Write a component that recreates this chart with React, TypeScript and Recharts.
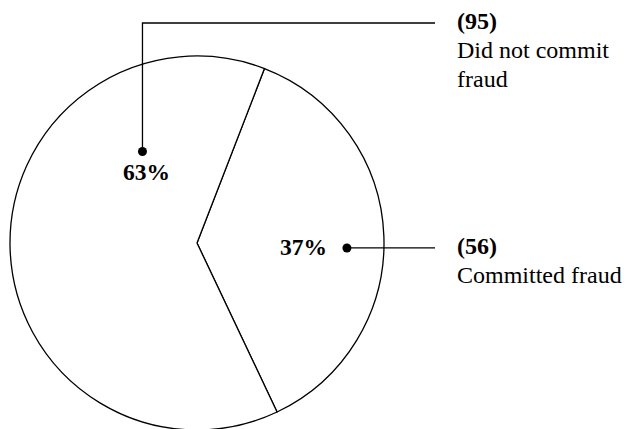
import React from 'react';
import { PieChart, Pie, Cell } from 'recharts';

// counts
const categories = ['Committed fraud', 'Did not commit fraud'];
const categoryLines = [['Committed fraud'], ['Did not commit', 'fraud']];
const counts = [56, 95];

const pieData = categories.map((name, i) => ({ name, value: counts[i], lines: categoryLines[i] }));

// label placement (polar offset of the dot from the centre, leader routing)
const LABEL_LAYOUT = [
  { angle: -1.9, radius: 150, elbowY: null, pctDx: -20, pctDy: 7, pctAnchor: 'end' },
  { angle: 120.8, radius: 106.5, elbowY: 23, pctDx: 4, pctDy: 28, pctAnchor: 'middle' },
];
const LEADER_END_X = 435;
const TEXT_X = 457;
const FONT = "'Liberation Serif', 'DejaVu Serif', serif";
const RAD = Math.PI / 180;

const renderLabel = (props: any) => {
  const { cx, cy, percent, index, value, payload } = props;
  const lay = LABEL_LAYOUT[index];
  const dx = cx + lay.radius * Math.cos(lay.angle * RAD);
  const dy = cy - lay.radius * Math.sin(lay.angle * RAD);
  const lineY = lay.elbowY == null ? dy : lay.elbowY;
  const points = lay.elbowY == null
    ? `${dx},${dy} ${LEADER_END_X},${dy}`
    : `${dx},${dy} ${dx},${lineY} ${LEADER_END_X},${lineY}`;
  const lines: string[] = payload.lines || [payload.name];
  return (
    <g key={`lbl-${index}`}>
      <polyline points={points} fill="none" stroke="#000" strokeWidth={1.3} />
      <circle cx={dx} cy={dy} r={4.5} fill="#000" />
      <text
        x={dx + lay.pctDx}
        y={dy + lay.pctDy}
        textAnchor={lay.pctAnchor as any}
        style={{ fontFamily: FONT, fontWeight: 'bold', fontSize: 23.5 }}
        fill="#000"
      >
        {`${Math.round(percent * 100)}%`}
      </text>
      <text x={TEXT_X} y={lineY + 6} style={{ fontFamily: FONT, fontWeight: 'bold', fontSize: 24 }} fill="#000">
        {`(${value})`}
      </text>
      {lines.map((ln, i) => (
        <text key={i} x={TEXT_X} y={lineY + 35 + i * 29} style={{ fontFamily: FONT, fontSize: 24 }} fill="#000">
          {ln}
        </text>
      ))}
    </g>
  );
};

const App: React.FC = () => {
  const total = counts.reduce((a, b) => a + b, 0);
  const sweep = (counts[0] / total) * 360;
  const mid = 2.1;
  const start = mid + sweep / 2;
  return (
    <div style={{ position: 'absolute', left: 0, top: 0, background: '#fff', fontFamily: FONT }}>
      <PieChart width={628} height={429} margin={{ top: 0, right: 0, bottom: 0, left: 0 }}>
        <Pie
          data={pieData}
          dataKey="value"
          nameKey="name"
          cx={197}
          cy={243}
          outerRadius={187}
          startAngle={start}
          endAngle={start - 360}
          stroke="#000"
          strokeWidth={1.3}
          label={renderLabel}
          labelLine={false}
          isAnimationActive={false}
        >
          {pieData.map((d, i) => (
            <Cell key={i} fill="#fff" />
          ))}
        </Pie>
      </PieChart>
    </div>
  );
};

export default App;
